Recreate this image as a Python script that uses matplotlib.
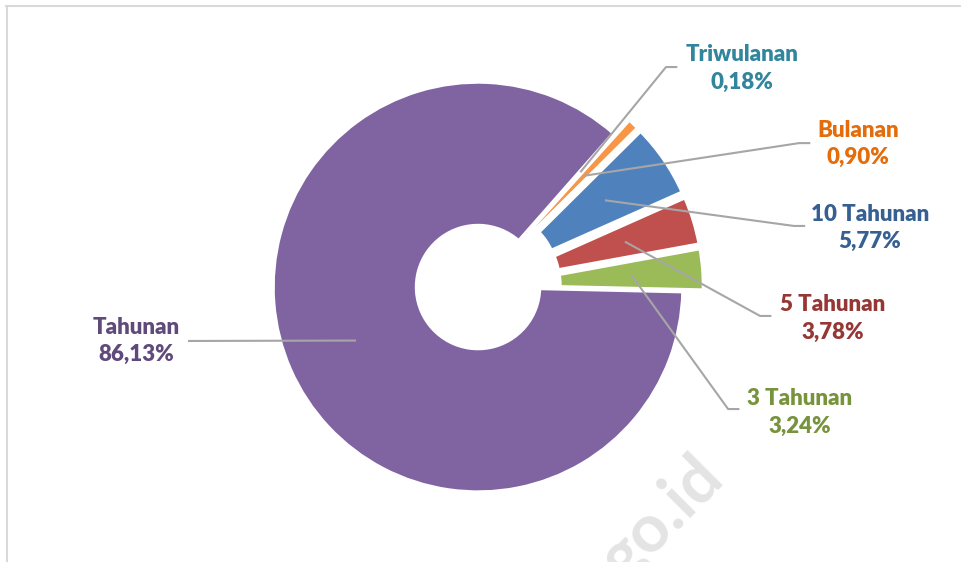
import numpy as np
import matplotlib.pyplot as plt
from matplotlib.lines import Line2D

# Share of deposit tenors
labels = ['3 Tahunan', '5 Tahunan', '10 Tahunan', 'Bulanan', 'Triwulanan', 'Tahunan']
values = [3.24, 3.78, 5.77, 0.90, 0.18, 86.13]
pct_text = ['3,24%', '3,78%', '5,77%', '0,90%', '0,18%', '86,13%']

wedge_colors = ['#9BBB59', '#C0504D', '#4F81BD', '#F79646', '#4BACC6', '#8064A2']
text_colors = ['#77933C', '#953735', '#376092', '#E46C0A', '#31859C', '#604A7B']
explode = [0.1, 0.1, 0.1, 0.1, 0.1, 0.0]

# label block centres and leader elbows (data units, pie radius = 1)
label_pos = [(1.571, -0.610), (1.732, -0.151), (1.912, 0.288),
             (1.854, 0.698), (1.288, 1.066), (-1.668, -0.263)]
elbows = [(1.220, -0.595), (1.376, -0.141), (1.541, 0.298),
          (1.566, 0.702), (0.917, 1.073), (-1.415, -0.263)]

plt.rcParams['font.family'] = ['Lato', 'DejaVu Sans']

fig = plt.figure(figsize=(9.62, 5.62), dpi=100)
ax = fig.add_axes([0, 0, 1, 1])

start = -1.3
wedges, _ = ax.pie(values, colors=wedge_colors, explode=explode, startangle=start,
                   counterclock=True, radius=1.0,
                   wedgeprops=dict(width=0.70, edgecolor='white', linewidth=2.5))
ax.set_aspect('auto')
ax.set_xlim(-2.332, 2.361)
ax.set_ylim(-1.341, 1.400)
ax.axis('off')

# leader lines and labels
for i, w in enumerate(wedges):
    mid = np.deg2rad((w.theta1 + w.theta2) / 2)
    r0 = 0.65 + explode[i]
    sx, sy = r0 * np.cos(mid), r0 * np.sin(mid)
    ex, ey = elbows[i]
    if label_pos[i][0] > 0:
        xs, ys = [sx, ex, ex + 0.055], [sy, ey, ey]
    else:
        xs, ys = [sx, ex], [sy, ey]
    ax.plot(xs, ys, color='#A6A6A6', lw=1.5, zorder=5, solid_capstyle='butt')
    ax.text(label_pos[i][0], label_pos[i][1], labels[i] + '\n' + pct_text[i],
            ha='center', va='center', fontsize=16, fontweight='heavy',
            color=text_colors[i], linespacing=1.4, zorder=6)

# watermark
ax.text(0.898, -1.127, 'go.id', rotation=45, fontsize=48, fontweight='bold',
        color='#E4E4E4', ha='center', va='center', rotation_mode='anchor', zorder=0)

# chart frame (top and left edges)
fig.add_artist(Line2D([6 / 962, 1], [1 - 5.5 / 562, 1 - 5.5 / 562], color='#D9D9D9', lw=1.5))
fig.add_artist(Line2D([6.5 / 962, 6.5 / 962], [0, 1 - 5.5 / 562], color='#D9D9D9', lw=1.5))

fig.savefig('out.png', dpi=100)
